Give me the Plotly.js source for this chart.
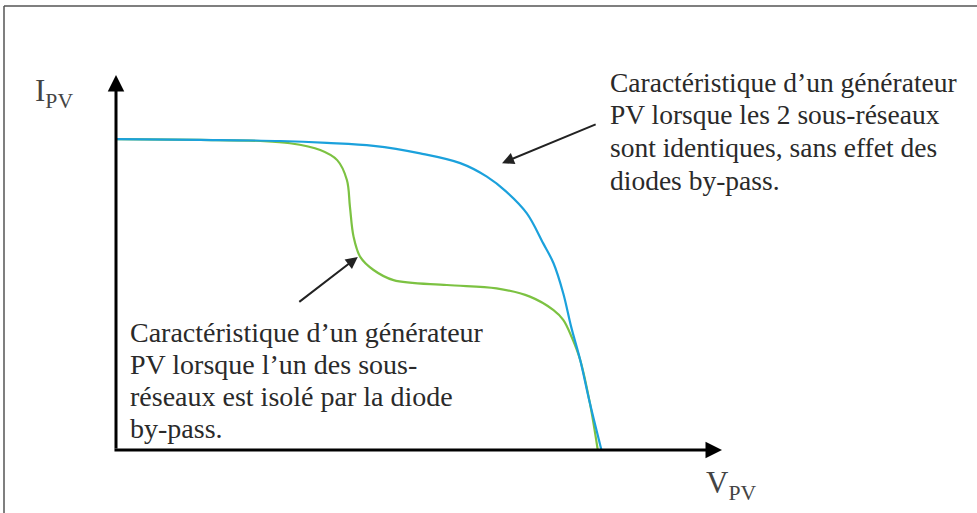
<!DOCTYPE html>
<html>
<head>
<meta charset="utf-8">
<script src="https://cdn.plot.ly/plotly-3.0.1.min.js"></script>
<style>html,body{margin:0;padding:0;background:#fff;}#chart{width:977px;height:513px;}</style>
</head>
<body>
<div id="chart"></div>
<script>
// I-V characteristic (V and I in arbitrary units, 0..100 = axis length)
const vIdentical = [0, 13.9, 27.1, 34.8, 42.5, 50.2, 56.8, 61.2, 64.4, 67.8, 70.5, 72.2, 73.8, 75.1, 76.6, 78.2, 80.1];
const iIdentical = [82.9, 82.7, 82.4, 81.9, 81.1, 79.1, 76.5, 72.9, 68.9, 63.1, 55.1, 49.8, 41.8, 32.9, 24.0, 12.5, 0];

const vBypass = [0, 13.9, 23.8, 28.7, 33.7, 36.5, 38.1, 38.6, 39.2, 40.3, 42.5, 45.8, 54.6, 62.8, 68.3, 72.2, 73.8, 75.2, 76.6, 78.2, 79.5];
const iBypass = [82.9, 82.7, 82.4, 81.8, 80.0, 77.3, 72.0, 64.9, 56.9, 51.5, 48.0, 45.3, 44.0, 43.1, 40.9, 37.3, 34.7, 30.1, 24.0, 12.5, 0];

const labelTopRight = ["Caractéristique d\u2019un générateur", "PV lorsque les 2 sous-réseaux", "sont identiques, sans effet des", "diodes by-pass."];
const labelBottomLeft = ["Caractéristique d\u2019un générateur", "PV lorsque l\u2019un des sous-", "réseaux est isolé par la diode", "by-pass."];
const xAxisLabel = "V<sub>PV</sub>";
const yAxisLabel = "I<sub>PV</sub>";

const W = 977, H = 513;
const px = x => x / W;          // pixel -> paper (layout placement only)
const py = y => 1 - y / H;

const FONT = "'Liberation Serif', 'Times New Roman', serif";

const annotations = [];
// axes with arrow heads
annotations.push({x: 0, y: 100, ax: 0, ay: 0, xref: 'x', yref: 'y', axref: 'x', ayref: 'y',
  showarrow: true, arrowhead: 2, arrowsize: 1.1, arrowwidth: 3, arrowcolor: '#000', text: '', standoff: 0});
annotations.push({x: 100, y: 0, ax: -0.5, ay: 0, xref: 'x', yref: 'y', axref: 'x', ayref: 'y',
  showarrow: true, arrowhead: 2, arrowsize: 1.1, arrowwidth: 3, arrowcolor: '#000', text: '', standoff: 0});
// pointer arrows
annotations.push({x: 63.7, y: 76.5, ax: 79.4, ay: 87.0, xref: 'x', yref: 'y', axref: 'x', ayref: 'y',
  showarrow: true, arrowhead: 2, arrowsize: 1.2, arrowwidth: 2, arrowcolor: '#222', text: ''});
annotations.push({x: 39.9, y: 51.5, ax: 30.0, ay: 39.2, xref: 'x', yref: 'y', axref: 'x', ayref: 'y',
  showarrow: true, arrowhead: 2, arrowsize: 1.2, arrowwidth: 2, arrowcolor: '#222', text: ''});

labelTopRight.forEach((t, k) => annotations.push({
  text: t, xref: 'paper', yref: 'paper', x: px(608), y: py(82 + k * 32.7),
  xanchor: 'left', yanchor: 'middle', showarrow: false, font: {family: FONT, size: 27.5, color: '#2a2a2a'}
}));
labelBottomLeft.forEach((t, k) => annotations.push({
  text: t, xref: 'paper', yref: 'paper', x: px(128), y: py(332 + k * 32.2),
  xanchor: 'left', yanchor: 'middle', showarrow: false, font: {family: FONT, size: 28, color: '#2a2a2a'}
}));
annotations.push({text: yAxisLabel, xref: 'paper', yref: 'paper', x: px(33), y: py(93),
  xanchor: 'left', yanchor: 'middle', showarrow: false, font: {family: FONT, size: 31, color: '#444'}});
annotations.push({text: xAxisLabel, xref: 'paper', yref: 'paper', x: px(704), y: py(485),
  xanchor: 'left', yanchor: 'middle', showarrow: false, font: {family: FONT, size: 31, color: '#444'}});

const traces = [
  {x: vBypass, y: iBypass, mode: 'lines', line: {color: '#7cc242', width: 2.2, shape: 'spline', smoothing: 1}, hoverinfo: 'skip'},
  {x: vIdentical, y: iIdentical, mode: 'lines', line: {color: '#1ba1dc', width: 2.2, shape: 'spline', smoothing: 1}, hoverinfo: 'skip'}
];

const layout = {
  width: W, height: H,
  margin: {l: 0, r: 0, t: 0, b: 0, pad: 0},
  paper_bgcolor: '#fff', plot_bgcolor: '#fff',
  showlegend: false,
  font: {family: FONT},
  xaxis: {range: [-116 / 6.06, (W - 116) / 6.06], visible: false, fixedrange: true},
  yaxis: {range: [-(H - 450) / 3.75, 450 / 3.75], visible: false, fixedrange: true},
  annotations: annotations,
  shapes: [
    {type: 'line', xref: 'paper', yref: 'paper', x0: px(4), x1: 1, y0: py(6), y1: py(6), line: {color: '#555', width: 1.5}},
    {type: 'line', xref: 'paper', yref: 'paper', x0: px(4), x1: px(4), y0: py(6), y1: 0, line: {color: '#555', width: 1.5}}
  ]
};

Plotly.newPlot('chart', traces, layout, {displayModeBar: false, staticPlot: true});
</script>
</body>
</html>
